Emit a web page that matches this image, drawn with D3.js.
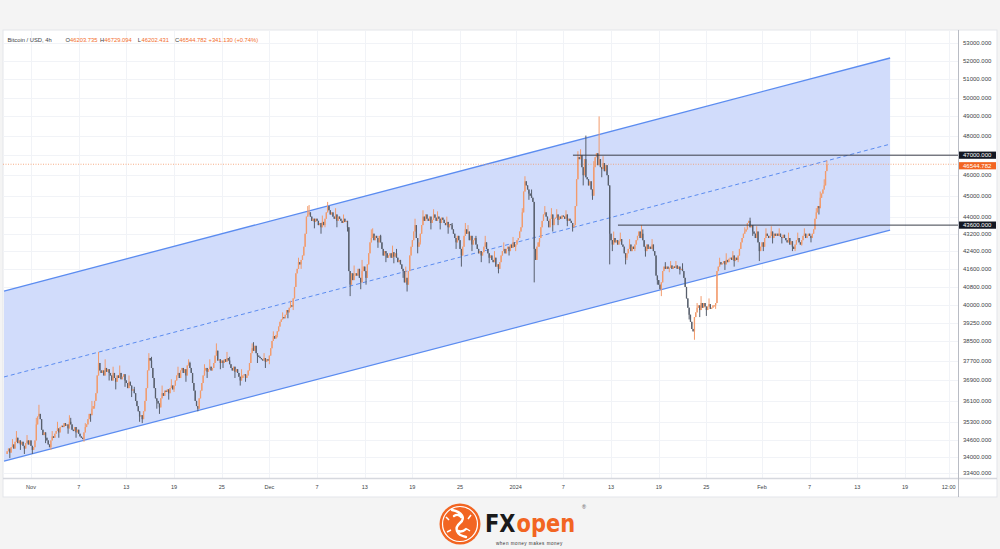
<!DOCTYPE html>
<html><head><meta charset="utf-8">
<script src="https://cdn.jsdelivr.net/npm/d3@7"></script>
<style>body{margin:0;background:#f4f4f4} svg{display:block}</style>
</head><body><svg id="c" width="1000" height="549"></svg>
<script>
// ---------- DATA ----------
// 4h bars, first bar opens 2023-10-29 00:00 UTC; prices in thousands of USD
const firstBar = "2023-10-29T00:00:00Z";
const firstOpen = 34.10;
const closes = [
34.20,34.30,34.15,34.35,34.45,34.30, // Oct 29
34.55,34.70,34.50,34.60,34.45,34.55,
34.40,34.30,34.50,34.60,34.45,34.60,
34.40,34.25,34.35,34.60,35.20,35.50, // Nov 1
35.60,35.40,35.00,34.80,34.90,34.70,
34.60,34.45,34.35,34.60,34.75,34.70,
34.85,34.95,35.05,34.90,35.10,35.15,
35.10,35.25,35.15,35.20,35.05,35.30,
35.20,35.00,34.95,35.10,34.90,35.00,
34.85,34.75,34.70,34.65,34.90,35.10, // Nov 7
35.20,35.40,35.60,35.55,35.80,35.90,
36.10,36.40,37.10,37.60,37.30,37.20,
37.30,37.10,37.40,37.25,37.35,37.20,
37.10,36.90,37.20,37.00,36.85,37.10,
37.00,37.20,36.95,37.05,37.15,36.90,
36.80,36.60,36.85,36.70,36.50,36.55, // Nov 13
36.40,36.10,35.90,35.70,35.50,35.55,
35.40,35.70,36.10,36.60,37.30,37.80,
37.70,37.40,37.00,36.60,36.20,36.10,
36.00,35.85,36.20,36.40,36.30,36.50,
36.45,36.55,36.40,36.60,36.70,36.55,
36.70,36.90,37.10,37.20,37.00,37.30, // Nov 19
37.40,37.20,37.35,37.10,37.50,37.60,
37.40,37.20,36.80,36.50,36.10,35.90,
35.80,36.20,36.50,36.80,37.10,37.30,
37.40,37.25,37.35,37.45,37.30,37.40,
37.60,37.90,38.10,37.70,37.75,37.60,
37.70,37.60,37.75,37.65,37.80,37.70, // Nov 25
37.55,37.40,37.30,37.45,37.25,37.35,
37.20,37.05,36.90,37.00,37.10,37.15,
37.00,37.10,37.30,37.60,38.00,38.20,
38.10,38.30,38.00,37.90,37.85,37.80,
37.75,37.70,37.80,37.65,37.75,37.70,
37.90,38.20,38.50,38.70,38.60,38.75, // Dec 1
38.90,39.10,39.30,39.40,39.50,39.45,
39.60,39.80,39.70,39.90,40.00,39.95,
40.30,40.80,41.40,41.60,41.90,41.80,
42.00,42.20,42.60,43.20,44.00,44.10,
44.20,44.00,43.80,43.90,43.75,43.90,
43.80,43.60,43.70,43.50,43.75,43.60, // Dec 7
43.90,44.20,44.50,44.30,44.10,44.20,
44.00,43.90,44.10,43.80,44.00,43.90,
43.80,43.70,43.90,43.75,43.80,43.50,
41.50,40.90,41.40,41.10,41.30,41.40,
41.30,41.60,41.20,41.00,41.50,41.70,
41.50,41.20,41.80,42.30,42.80,43.00, // Dec 13
43.20,42.90,43.10,43.00,42.80,43.10,
42.80,42.50,42.20,42.40,42.30,42.10,
42.20,42.30,42.10,42.35,42.15,42.30,
42.10,41.90,42.00,41.80,41.60,41.50,
41.00,41.20,40.90,41.50,42.20,42.60,
42.90,43.30,43.60,43.00,42.60,42.80, // Dec 19
43.20,43.60,44.00,43.80,44.10,43.90,
43.80,44.00,43.70,43.85,44.10,43.95,
43.80,44.00,43.90,43.70,43.95,43.85,
43.70,43.60,43.75,43.50,43.65,43.60,
43.40,43.20,43.00,42.80,43.10,42.90,
42.50,42.20,42.60,43.10,43.40,43.20, // Dec 25
43.30,42.90,43.10,42.70,42.90,43.00,
42.70,42.50,42.30,42.40,42.20,42.35,
42.60,42.80,42.50,42.30,42.10,42.20,
42.00,41.90,42.10,41.70,41.80,41.60,
41.90,42.20,42.40,42.50,42.30,42.50,
42.60,42.40,42.70,42.55,42.80,42.60, // Dec 31
42.70,42.90,43.00,43.30,43.50,44.20, // Jan 1
45.20,45.70,45.50,45.30,45.10,45.00,
44.90,44.70,42.50,42.00,42.60,42.80,
43.00,43.50,43.80,44.10,44.20,44.00,
43.80,43.50,43.90,44.10,43.60,43.90,
43.95,44.10,43.85,44.00,43.90,44.05,
44.00,43.90,44.10,43.80,43.90,43.80, // Jan 7
43.70,43.50,43.60,44.50,45.80,46.90,
46.80,47.00,46.40,46.00,46.80,45.90,
45.80,45.50,45.70,45.30,45.00,46.40,
46.90,47.10,46.50,46.80,46.40,46.30,
46.60,46.20,46.50,46.00,45.50,43.20,
42.90,42.70,43.00,42.80,42.90,42.70, // Jan 13
42.85,42.95,42.70,42.60,42.30,42.10,
42.30,42.50,42.70,42.40,42.60,42.50,
42.70,42.90,43.10,43.30,43.00,43.20,
42.90,42.60,42.40,42.70,42.50,42.60,
42.50,42.70,42.40,42.20,41.30,41.10,
40.90,40.70,41.00,41.50,41.70,41.60, // Jan 19
41.70,41.60,41.65,41.75,41.60,41.70,
41.65,41.75,41.60,41.70,41.55,41.60,
41.50,41.20,40.80,40.30,39.90,39.60,
39.30,39.00,38.90,39.50,39.70,39.90,
40.00,39.80,40.10,39.90,40.10,39.95,
39.80,39.95,40.05,39.85,39.90,40.00, // Jan 25
40.00,40.10,41.50,41.70,41.90,41.80,
41.85,41.95,41.80,42.00,41.90,42.05,
42.10,42.00,42.20,41.95,42.10,42.00,
42.20,42.50,42.80,43.00,43.20,43.30,
43.40,43.70,43.80,43.50,43.60,43.30,
43.20,43.00,43.30,42.80,42.40,42.60, // Jan 31
42.80,42.60,43.00,43.20,43.10,43.00, // Feb 1
43.10,43.30,43.00,43.20,43.10,43.20,
43.10,43.20,43.05,43.00,43.15,43.00,
42.90,42.80,43.00,42.70,42.85,42.60,
42.50,42.70,42.90,43.00,42.80,42.70,
42.90,43.10,43.20,43.00,43.10,43.20,
43.10,43.00,43.20,43.40,43.90,44.20, // Feb 7
44.50,44.40,44.90,45.10,45.30,45.50,
46.2037,46.544782                     // Feb 9
];
// wicks: [bar index, price (thousands)]
const wickHighs = [
[4,34.65],[7,34.95],[15,34.80],[22,35.45],[24,35.95],[34,34.95],[38,35.30],[47,35.55],[48,35.45],[59,35.25],
[64,36.10],[69,38.05],[74,37.75],[80,37.45],[85,37.50],[92,37.10],[96,36.65],[107,38.00],[109,37.85],[117,36.70],
[124,36.95],[129,37.45],[137,37.75],[138,37.65],[149,37.55],[153,37.75],[158,38.40],[166,38.05],[168,37.85],[177,37.35],
[185,38.40],[186,38.45],[194,38.00],[201,38.90],[208,39.70],[214,40.20],[220,42.10],[227,44.50],[228,44.55],[238,44.05],
[242,44.70],[248,44.40],[254,44.10],[262,41.75],[268,42.00],[275,43.40],[276,43.45],[282,43.15],[291,42.65],[294,42.50],
[301,41.70],[308,43.90],[314,44.30],[322,44.35],[325,44.25],[332,44.00],[336,43.70],[346,43.70],[348,43.60],[354,43.10],
[361,43.10],[368,42.40],[375,42.80],[382,43.05],[389,44.40],[391,45.95],[396,45.30],[406,44.50],[411,44.40],[415,44.35],
[422,44.30],[431,47.20],[433,47.30],[437,48.00],[443,46.70],[447,49.00],[450,46.95],[458,43.30],[463,43.25],[470,42.95],
[479,43.60],[480,43.40],[487,42.95],[497,41.90],[501,41.95],[505,41.95],[510,41.85],[521,40.10],[524,40.40],[530,40.30],
[538,42.10],[543,42.30],[548,42.40],[557,43.50],[561,43.95],[566,43.55],[573,43.45],[577,43.55],[583,43.45],[590,43.25],
[597,43.25],[602,43.45],[611,44.40],[614,45.20],[617,45.80],[619,46.729094]];
const wickLows = [
[2,33.95],[10,34.25],[13,34.10],[19,34.10],[29,34.50],[33,34.25],[39,34.70],[46,34.85],[52,34.70],[58,34.55],
[63,35.30],[66,35.80],[77,36.90],[82,36.55],[89,36.65],[94,36.25],[100,35.30],[102,35.25],[113,35.80],[115,35.60],
[122,36.15],[126,36.45],[135,36.85],[144,35.70],[145,35.95],[151,37.00],[161,37.35],[163,37.40],[172,37.00],[176,36.70],
[180,36.85],[189,37.60],[195,37.40],[198,37.55],[204,38.65],[212,39.45],[216,39.80],[222,41.60],[232,43.45],[237,43.20],
[240,43.50],[249,43.50],[257,43.30],[259,40.40],[267,40.70],[271,40.90],[280,42.55],[286,41.90],[292,41.85],[299,41.20],
[302,40.60],[310,42.30],[312,42.70],[320,43.40],[327,43.40],[333,43.20],[339,42.50],[343,41.70],[351,42.40],[358,41.90],
[364,41.85],[371,41.40],[372,41.70],[379,42.20],[384,42.40],[394,44.80],[398,41.00],[402,42.60],[412,43.30],[416,43.60],
[423,43.55],[427,43.30],[435,45.50],[442,44.80],[449,45.90],[455,41.80],[457,42.40],[467,41.80],[468,42.00],[474,42.40],
[482,42.15],[491,40.90],[494,40.40],[500,41.45],[508,41.35],[515,39.40],[519,38.55],[523,39.50],[528,39.55],[535,39.85],
[542,41.55],[549,41.70],[552,41.90],[563,43.10],[568,41.95],[571,42.40],[578,42.75],[585,42.75],[593,42.40],[595,42.40],
[600,42.65],[607,42.80],[613,44.10],[619,46.202431]];

const header = {name:"Bitcoin / USD, 4h", o:"46203.735", h:"46729.094", l:"46202.431", c:"46544.782", chg:"+341.130 (+0.74%)"};
const lastPrice = 46544.782;
const priceTicks = [53000,52000,51000,50000,49000,48000,47000,46000,45000,44000,43200,42400,41600,40800,40000,39250,38500,37700,36900,36100,35300,34600,34000,33400];
const timeTicks = [["2023-11-01","Nov"],["2023-11-07","7"],["2023-11-13","13"],["2023-11-19","19"],["2023-11-25","25"],
  ["2023-12-01","Dec"],["2023-12-07","7"],["2023-12-13","13"],["2023-12-19","19"],["2023-12-25","25"],
  ["2024-01-01","2024"],["2024-01-07","7"],["2024-01-13","13"],["2024-01-19","19"],["2024-01-25","25"],
  ["2024-02-01","Feb"],["2024-02-07","7"],["2024-02-13","13"],["2024-02-19","19"],["2024-02-24T12:00","12:00"]];
// parallel channel (drawing) endpoints
const channelTimes = ["2023-10-28T14:30Z","2024-02-17T03:00Z"];
const channelUpper = [40620, 52170];
const channelMid   = [37040, 47560];
const channelLower = [33840, 43370];
// horizontal levels
const levels = [{price:47000, from:"2024-01-08T05:00Z"},{price:43600, from:"2024-01-13T21:00Z"}];

// ---------- LAYOUT ----------
const svg = d3.select("#c");
const P = {l:3, t:31, r:958, b:478};
const x = d3.scaleUtc().domain([new Date("2023-11-01T00:00Z"), new Date("2024-02-19T00:00Z")]).range([31, 905]);
const y = d3.scaleLog().domain([33400, 53000]).range([473.3, 43.3]);
const T = s => new Date(s.length <= 10 ? s + "T00:00Z" : (s.endsWith("Z") ? s : s + "Z"));
const font = "'Liberation Sans', Arial, sans-serif";

svg.append("rect").attr("x",3).attr("y",30).attr("width",994).attr("height",467).attr("fill","#fff").attr("stroke","#e3e5ea");

svg.append("defs").append("clipPath").attr("id","plot").append("rect")
  .attr("x",P.l).attr("y",P.t).attr("width",P.r-P.l).attr("height",P.b-P.t);
const plot = svg.append("g").attr("clip-path","url(#plot)");

// grid
plot.selectAll(".hg").data(priceTicks).join("line")
  .attr("x1",P.l).attr("x2",P.r).attr("y1",d=>Math.round(y(d))+0.5).attr("y2",d=>Math.round(y(d))+0.5)
  .attr("stroke","#f1f3f7");
plot.selectAll(".vg").data(timeTicks).join("line")
  .attr("x1",d=>Math.round(x(T(d[0])))+0.5).attr("x2",d=>Math.round(x(T(d[0])))+0.5).attr("y1",P.t).attr("y2",P.b)
  .attr("stroke","#f1f3f7");

// channel fill
const cx = channelTimes.map(T);
plot.append("path")
  .attr("d", `M${x(cx[0])},${y(channelUpper[0])}L${x(cx[1])},${y(channelUpper[1])}L${x(cx[1])},${y(channelLower[1])}L${x(cx[0])},${y(channelLower[0])}Z`)
  .attr("fill","#d1dcfb");
const chLine = (arr, dash) => plot.append("line")
  .attr("x1",x(cx[0])).attr("y1",y(arr[0])).attr("x2",x(cx[1])).attr("y2",y(arr[1]))
  .attr("stroke","#5b8cf0").attr("stroke-width",dash?1:1.3).attr("stroke-dasharray",dash?"4,3":null);
chLine(channelUpper,false); chLine(channelLower,false); chLine(channelMid,true);

// current price dotted line
plot.append("line").attr("x1",P.l).attr("x2",P.r).attr("y1",y(lastPrice)).attr("y2",y(lastPrice))
  .attr("stroke","#f59a6a").attr("stroke-width",0.8).attr("stroke-dasharray","1,1.5");

// candles
const t0 = new Date(firstBar).getTime();
const hiMap = new Map(wickHighs), loMap = new Map(wickLows);
const bars = closes.map((c,i)=>{
  const o = i===0 ? firstOpen : closes[i-1];
  let h = Math.max(o,c), l = Math.min(o,c);
  if (hiMap.has(i)) h = Math.max(h, hiMap.get(i));
  if (loMap.has(i)) l = Math.min(l, loMap.get(i));
  return {t:new Date(t0 + i*4*3600e3), o:o*1000, c:c*1000, h:h*1000, l:l*1000};
});
const up = "#f29b6c", dn = "#585f6c";
const cg = plot.append("g");
cg.selectAll(".w").data(bars).join("rect")
  .attr("x",d=>x(d.t)-0.5).attr("width",1)
  .attr("y",d=>y(d.h)).attr("height",d=>Math.max(1,y(d.l)-y(d.h)))
  .attr("fill",d=>d.c>=d.o?up:dn);
cg.selectAll(".b").data(bars).join("rect")
  .attr("x",d=>x(d.t)-0.65).attr("width",1.3)
  .attr("y",d=>y(Math.max(d.o,d.c))).attr("height",d=>Math.max(1,Math.abs(y(d.o)-y(d.c))))
  .attr("fill",d=>d.c>=d.o?up:dn);

// horizontal levels
plot.selectAll(".lv").data(levels).join("line")
  .attr("x1",d=>x(T(d.from))).attr("x2",P.r).attr("y1",d=>y(d.price)).attr("y2",d=>y(d.price))
  .attr("stroke","#3a3e48").attr("stroke-width",1);

// axes borders
svg.append("line").attr("x1",3).attr("x2",997).attr("y1",478.5).attr("y2",478.5).attr("stroke","#d6d8de").attr("stroke-width",1.5);
svg.append("line").attr("x1",958.5).attr("x2",958.5).attr("y1",30).attr("y2",497).attr("stroke","#b9bcc4");

// price axis labels
svg.selectAll(".pl").data(priceTicks).join("text")
  .attr("x",963).attr("y",d=>y(d)+2).attr("font-family",font).attr("font-size",6).attr("fill","#3c3f46")
  .text(d=>d3.format(".3f")(d));
// level boxes
const boxes = [{p:47000, bg:"#131722"},{p:lastPrice, bg:"#f26522", yOff:1.5},{p:43600, bg:"#131722"}];
boxes.forEach(b=>{
  const yy = y(b.p) + (b.yOff||0);
  svg.append("rect").attr("x",959).attr("y",yy-3.6).attr("width",37).attr("height",7.2).attr("fill",b.bg);
  svg.append("text").attr("x",963).attr("y",yy+2).attr("font-family",font).attr("font-size",6).attr("fill","#fff")
    .text(d3.format(".3f")(b.p));
});

// time axis labels
svg.selectAll(".tl").data(timeTicks).join("text")
  .attr("x",d=>x(T(d[0]))).attr("y",489).attr("text-anchor","middle")
  .attr("font-family",font).attr("font-size",5.5).attr("fill","#3c3f46").text(d=>d[1]);

// header
const ht = svg.append("text").attr("y",42).attr("font-family",font).attr("font-size",5.8);
const seg = [[7.5,header.name,"#3c3f46"],[65.5,"O","#3c3f46"],[70,header.o,"#f26d2b"],[100,"H","#3c3f46"],[104.3,header.h,"#f26d2b"],
  [137.8,"L","#3c3f46"],[141.5,header.l,"#f26d2b"],[175,"C","#3c3f46"],[179.3,header.c,"#f26d2b"],[208.5,header.chg,"#f26d2b"]];
seg.forEach(s=>ht.append("tspan").attr("x",s[0]).attr("fill",s[2]).text(s[1]));

// ---------- LOGO ----------
const lg = svg.append("g");
lg.append("circle").attr("cx",460).attr("cy",524).attr("r",20.5).attr("fill","#f26522");
lg.append("circle").attr("cx",460).attr("cy",524).attr("r",17.5).attr("fill","none").attr("stroke","#fff").attr("stroke-width",1.2);
lg.append("path").attr("d","M452,510 C462,512 466,518 460,523 C454,528 456,535 466,537 M454,516 c3,-2 6,-1 7,1 M458,531 c3,1 6,0 8,-2")
  .attr("fill","none").attr("stroke","#fff").attr("stroke-width",2.4).attr("stroke-linecap","round");
lg.append("path").attr("d","M446,517 l3,3 M471,515 l-3,4 M447,532 l4,-2 M470,531 l-3,-2").attr("stroke","#fff").attr("stroke-width",1.5);
const wm = lg.append("g").attr("transform","translate(485,532) scale(0.84,1)");
wm.append("text").attr("x",0).attr("y",0).attr("font-family","'DejaVu Sans', Arial, sans-serif").attr("font-weight","bold").attr("font-size",25)
  .attr("fill","#1a1a1a").text("FX");
wm.append("text").attr("x",37.5).attr("y",0).attr("font-family","'DejaVu Sans', Arial, sans-serif").attr("font-weight","bold").attr("font-size",25)
  .attr("fill","#f26522").text("open");
lg.append("text").attr("x",582).attr("y",509).attr("font-family",font).attr("font-size",5.5).attr("fill","#555").text("®");
lg.append("text").attr("x",496).attr("y",545).attr("font-family",font).attr("font-size",4.6).attr("letter-spacing",0.5).attr("fill","#333").text("when money   makes money");
</script></body></html>
